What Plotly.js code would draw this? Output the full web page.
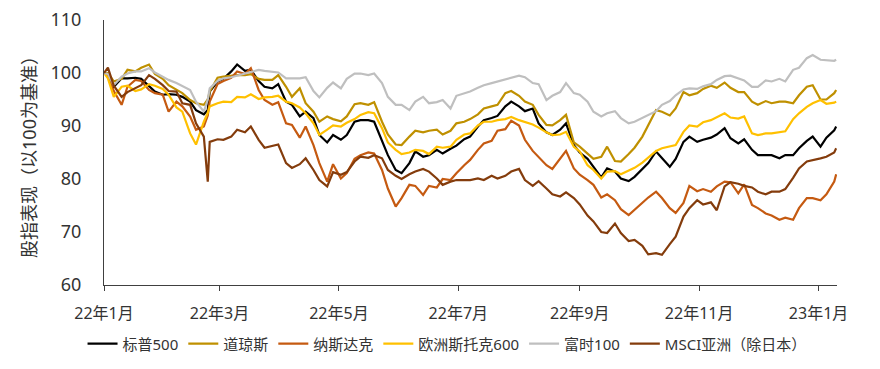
<!DOCTYPE html>
<html>
<head>
<meta charset="utf-8">
<script src="https://cdn.plot.ly/plotly-3.0.1.min.js"></script>
<style>html,body{margin:0;padding:0;background:#fff;}#chart{width:880px;height:369px;}</style>
</head>
<body>
<div id="chart"></div>
<script>
const dates = [
"2022-01-01",
"2022-01-03","2022-01-06","2022-01-10","2022-01-13","2022-01-17","2022-01-20","2022-01-24","2022-01-27","2022-01-31","2022-02-03",
"2022-02-07","2022-02-10","2022-02-14","2022-02-17","2022-02-21","2022-02-23","2022-02-24","2022-02-28","2022-03-03",
"2022-03-07","2022-03-10","2022-03-14","2022-03-17","2022-03-21","2022-03-24","2022-03-28","2022-03-31",
"2022-04-04","2022-04-07","2022-04-11","2022-04-14","2022-04-18","2022-04-21","2022-04-25","2022-04-28",
"2022-05-02","2022-05-05","2022-05-09","2022-05-12","2022-05-16","2022-05-19","2022-05-23","2022-05-26","2022-05-30","2022-06-02",
"2022-06-06","2022-06-09","2022-06-13","2022-06-16","2022-06-20","2022-06-23","2022-06-27","2022-06-30",
"2022-07-04","2022-07-07","2022-07-11","2022-07-14","2022-07-18","2022-07-21","2022-07-25","2022-07-28",
"2022-08-01","2022-08-04","2022-08-08","2022-08-11","2022-08-15","2022-08-18","2022-08-22","2022-08-25","2022-08-29","2022-09-01",
"2022-09-05","2022-09-08","2022-09-12","2022-09-15","2022-09-19","2022-09-22","2022-09-26","2022-09-29",
"2022-10-03","2022-10-06","2022-10-10","2022-10-13","2022-10-17","2022-10-20","2022-10-24","2022-10-27","2022-10-31","2022-11-03",
"2022-11-07","2022-11-10","2022-11-14","2022-11-17","2022-11-21","2022-11-24","2022-11-28","2022-12-01",
"2022-12-05","2022-12-08","2022-12-12","2022-12-15","2022-12-19","2022-12-22","2022-12-26","2022-12-29",
"2023-01-02","2023-01-05","2023-01-09","2023-01-10"];

const sp500 = [100,
99.5,97.4,99.0,99.0,99.1,98.9,97.6,96.5,95.9,96.0,
95.9,95.5,94.6,93.0,92.2,93.0,96.5,98.4,98.9,
100.3,101.6,100.4,100.6,98.5,97.4,97.1,97.9,
94.6,94.0,91.8,92.7,91.5,88.3,86.9,88.3,
87.4,88.3,90.8,91.1,91.1,90.8,87.0,84.5,81.7,81.1,
83.0,85.2,84.2,84.5,85.5,84.8,85.7,86.3,
87.5,88.0,89.9,91.1,91.5,91.9,93.7,94.6,
93.7,92.8,93.3,90.5,88.8,88.3,89.3,90.5,86.4,85.0,
83.8,82.3,80.3,82.0,81.4,80.1,79.6,80.4,
81.9,83.0,85.2,83.9,82.3,83.8,87.0,88.0,87.0,87.4,
87.8,88.4,89.6,87.7,86.7,87.5,85.5,84.5,
84.5,84.5,83.9,84.5,84.5,85.8,87.2,88.0,
86.1,87.8,89.2,89.9];

const dow = [100,
100.0,98.4,98.9,100.6,100.3,101.0,101.6,99.8,98.9,97.7,
96.8,96.2,94.9,94.3,94.0,95.0,96.5,99.1,99.3,
99.5,99.6,99.6,99.8,98.9,98.7,98.7,99.6,
97.4,95.5,97.1,94.3,92.7,90.8,91.8,91.3,
90.9,91.8,94.1,94.3,94.0,94.5,90.8,88.4,86.5,86.4,
88.0,89.1,88.8,89.1,89.3,88.4,89.1,90.5,
90.8,91.3,92.2,93.3,93.7,94.0,96.2,96.6,
95.7,94.6,94.0,92.1,90.2,90.1,91.1,92.1,86.9,86.1,
84.8,83.8,84.2,86.1,83.4,83.3,84.7,85.9,
88.0,90.2,93.0,92.7,92.0,93.3,96.4,95.8,96.2,97.0,
97.6,97.2,98.2,97.2,96.4,96.4,94.6,94.0,
94.7,94.3,94.6,94.6,94.3,95.8,97.4,97.7,
95.0,95.0,96.2,96.8];

const nasdaq = [100,
99.5,96.6,94.0,97.4,98.7,98.5,96.8,96.2,95.9,92.7,
94.6,93.7,91.8,89.3,89.9,92.0,94.6,97.9,98.5,
99.1,100.3,99.8,100.9,96.8,94.9,94.0,94.5,
90.5,90.2,87.8,89.9,86.4,83.0,79.5,82.8,
80.1,81.1,83.8,84.5,85.0,84.8,81.7,78.2,74.8,76.4,
78.9,78.7,77.0,78.7,78.4,80.0,79.8,81.1,
82.6,83.6,85.5,86.7,87.2,89.1,89.4,91.0,
90.1,87.4,85.3,84.2,82.6,81.9,83.9,85.3,82.0,80.8,
79.8,78.9,76.5,77.1,76.0,74.3,73.2,74.2,
75.4,76.5,77.6,76.4,74.5,73.6,75.5,78.7,77.7,78.1,
77.6,78.6,79.5,79.4,77.3,79.0,75.1,74.5,
73.5,73.1,72.3,72.7,72.3,74.5,76.4,76.4,
76.0,77.1,79.5,80.9];

const stoxx600 = [100,
99.0,95.5,97.4,97.6,96.6,96.9,97.9,97.6,97.0,95.9,
93.5,92.7,88.6,86.5,90.8,92.5,93.7,94.3,94.6,
94.5,95.5,95.4,96.0,95.1,95.4,95.5,95.7,
94.6,94.3,93.5,92.4,90.5,88.3,89.3,90.1,
89.9,90.6,91.3,92.1,92.6,92.4,89.6,86.9,85.5,84.7,
85.0,85.5,85.3,84.7,86.1,85.9,86.1,87.4,
88.4,88.6,90.1,90.8,90.8,91.1,91.3,91.7,
91.1,90.7,90.3,89.7,88.8,88.3,88.4,88.9,86.1,85.2,
82.6,81.7,80.1,81.4,81.5,80.9,81.5,82.1,
83.1,84.0,85.3,85.8,86.1,86.4,88.9,90.1,89.9,90.7,
91.1,91.7,92.4,91.6,91.4,91.8,88.6,88.3,
88.6,88.6,88.8,89.0,91.3,92.4,93.6,94.3,
94.9,94.2,94.4,94.6];

const ftse100 = [100,
99.8,97.7,99.3,99.9,100.3,100.3,100.9,100.1,99.3,98.7,
98.1,97.6,96.8,94.6,92.7,95.0,97.1,98.5,99.0,
99.2,99.5,99.8,100.1,100.6,100.4,100.3,100.1,
99.0,99.0,99.0,99.2,96.6,95.4,97.2,98.2,
97.1,98.9,99.9,99.9,99.6,99.9,98.1,95.5,94.0,94.0,
93.0,94.6,95.5,94.3,94.5,94.9,93.3,95.7,
96.2,96.5,97.2,97.7,98.1,98.4,98.7,99.0,
99.5,99.2,98.1,97.9,94.9,95.7,96.4,98.1,96.2,95.9,
94.6,92.7,91.8,92.4,92.8,91.5,90.5,90.8,
91.5,92.1,92.8,94.0,94.7,95.8,96.9,97.1,97.0,97.5,
97.9,98.7,99.4,99.5,98.9,98.6,97.4,97.4,
98.6,98.4,98.9,98.4,100.6,101.0,102.8,103.4,
102.5,102.4,102.3,102.5];

const msciAsiaExJp = [100,
101.0,97.6,95.5,96.4,97.1,97.7,99.6,98.9,97.7,96.6,
96.5,94.3,94.0,90.5,88.0,79.5,87.0,87.5,87.4,
88.0,89.3,88.8,89.9,87.4,85.9,86.3,86.5,
83.0,82.1,82.8,83.9,81.7,79.8,78.6,81.3,
80.8,81.3,83.3,84.2,84.0,84.5,83.9,81.7,80.6,80.0,
80.9,81.4,81.9,81.4,80.1,78.9,79.5,79.8,
79.8,79.8,80.1,79.8,80.6,80.1,80.6,81.4,
81.9,79.8,78.7,79.6,78.2,77.1,76.7,77.5,76.4,75.2,
73.1,72.0,70.0,69.8,71.6,69.8,68.3,68.5,
67.4,65.8,66.0,65.7,67.7,69.1,72.9,74.5,76.0,75.2,
75.6,74.1,78.6,79.4,79.1,78.7,78.4,77.6,
77.1,77.6,77.6,78.1,80.2,82.0,83.3,83.5,
83.9,84.2,85.0,85.8];

const seriesNames = ["标普500","道琼斯","纳斯达克","欧洲斯托克600","富时100","MSCI亚洲（除日本）"];
const seriesValues = [sp500, dow, nasdaq, stoxx600, ftse100, msciAsiaExJp];
const seriesColors = ["#000000","#BF9000","#C55A11","#FFC000","#BFBFBF","#843C0C"];

const tickDates = ["2022-01-01","2022-03-01","2022-05-01","2022-07-01","2022-09-01","2022-11-01","2023-01-01"];
const tickLabels = ["22年1月","22年3月","22年5月","22年7月","22年9月","22年11月","23年1月"];

const FONT = "'Noto Sans', 'Noto Sans CJK SC', sans-serif";

const traces = seriesNames.map((n, i) => ({
  type: "scatter",
  mode: "lines",
  name: n,
  x: dates,
  y: seriesValues[i],
  line: {color: seriesColors[i], width: 2.2},
  hoverinfo: "skip"
}));

const layout = {
  width: 880,
  height: 369,
  margin: {l: 104, r: 43, t: 20, b: 84},
  paper_bgcolor: "#ffffff",
  plot_bgcolor: "#ffffff",
  font: {family: FONT, color: "#333333", size: 16},
  showlegend: true,
  legend: {
    orientation: "h",
    xref: "container", yref: "container",
    x: 0.508, xanchor: "center",
    y: 0.068, yanchor: "middle",
    font: {family: FONT, size: 15, color: "#333333"},
    itemwidth: 30,
    tracegroupgap: 0
  },
  xaxis: {
    type: "date",
    range: ["2022-01-01", "2023-01-10 10:00"],
    tickmode: "array",
    tickvals: tickDates,
    ticktext: tickLabels,
    ticks: "outside",
    ticklen: 5,
    tickwidth: 1,
    tickcolor: "#404040",
    showline: true,
    linecolor: "#404040",
    linewidth: 1,
    showgrid: false,
    zeroline: false,
    ticklabelstandoff: 9,
    tickfont: {family: FONT, size: 16, color: "#333333"}
  },
  yaxis: {
    range: [60, 110],
    dtick: 10,
    tick0: 60,
    ticks: "",
    showline: true,
    linecolor: "#404040",
    linewidth: 1,
    showgrid: false,
    zeroline: false,
    ticklabelstandoff: 18,
    tickfont: {family: FONT, size: 18, color: "#333333"},
    title: {text: "股指表现（以100为基准）", font: {family: FONT, size: 18, color: "#333333"}, standoff: 9}
  }
};

Plotly.newPlot("chart", traces, layout, {displayModeBar: false, staticPlot: true});
</script>
</body>
</html>
